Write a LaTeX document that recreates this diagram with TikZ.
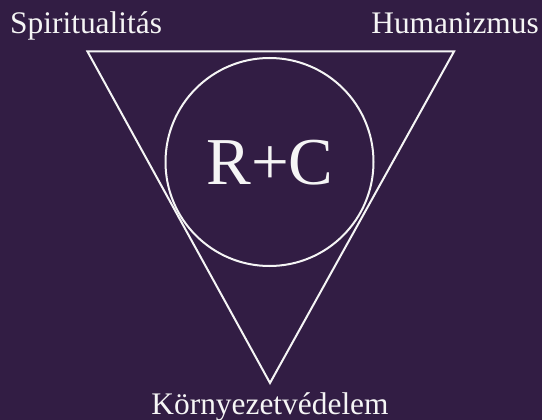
\documentclass[tikz,border=0pt]{standalone}
\usepackage{fontspec}
\setmainfont{Liberation Serif}
\definecolor{bgpurple}{RGB}{50,29,68}
\definecolor{fg}{RGB}{245,245,245}
\begin{document}
\begin{tikzpicture}[x=1pt,y=-1pt,
  lbl/.style={text=fg, inner sep=0pt, font=\fontsize{31.4}{36}\selectfont},
  big/.style={text=fg, inner sep=0pt, font=\fontsize{67}{76}\selectfont},
  shapeline/.style={draw=fg, line width=2pt}]
\fill[bgpurple] (0,0) rectangle (542,420);
\useasboundingbox (0,0) rectangle (542,420);
\coordinate (tl) at (87.5,51.5);
\coordinate (tr) at (454,51.5);
\coordinate (bt) at (270,383);
\draw[shapeline, line join=miter] (tl) -- (tr) -- (bt) -- cycle;
\node[circle, shapeline, minimum size=208pt, inner sep=0pt] (rc) at (269.5,162) {};
\node[big, anchor=base] (rctext) at (270,185) {R+C};
\node[lbl, anchor=base west] (spir) at (10,33.3) {Spiritualitás};
\node[lbl, anchor=base east] (hum) at (539,33.3) {Humanizmus};
\node[lbl, anchor=base] (korny) at (270,414) {Környezetvédelem};
\end{tikzpicture}
\end{document}
